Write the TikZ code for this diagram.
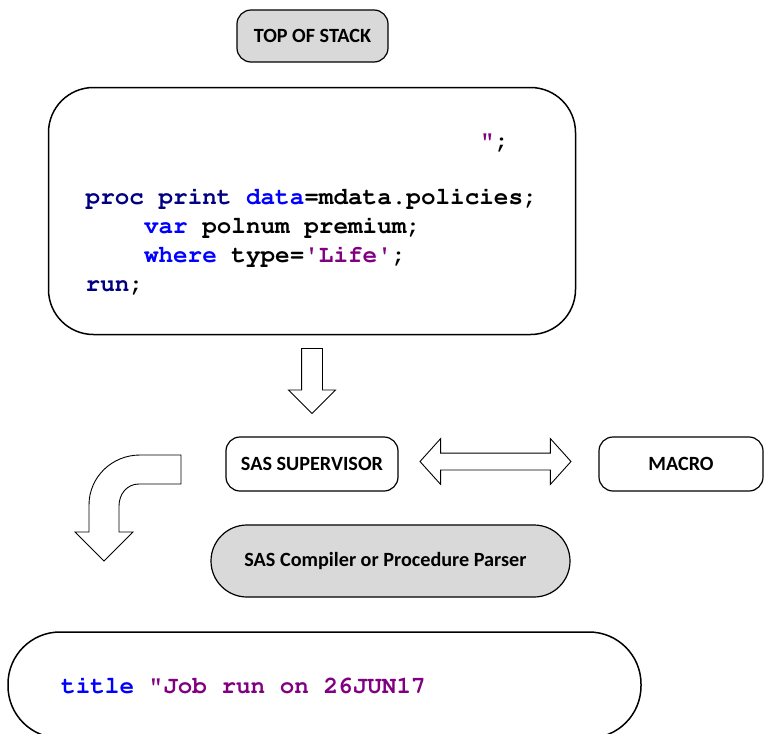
\documentclass[tikz,border=0pt]{standalone}
\usepackage[T1,TU]{fontenc}
\usepackage{fontspec}
\newfontfamily\lblfont{Carlito}
\usepackage{tikz}
\usetikzlibrary{shapes.arrows}
\definecolor{sasnavy}{RGB}{0,0,128}
\definecolor{sasblue}{RGB}{0,0,255}
\definecolor{sasstr}{RGB}{128,0,128}
\definecolor{boxgray}{RGB}{217,217,217}
\newcommand{\sascode}{\fontencoding{T1}\fontfamily{pcr}\fontseries{b}\fontsize{24.3}{29}\selectfont}
\tikzset{>=latex}
\tikzset{
  lbl/.style={font=\lblfont\bfseries\fontsize{20.2}{24}\selectfont},
  box/.style={draw, line width=1.2pt, rounded corners=14pt, lbl},
  code/.style={anchor=base west, inner sep=0pt, font=\sascode},
  bigbox/.style={draw, line width=1.5pt, rounded corners=45pt},
  blockarrow/.style={draw, line width=0.9pt}
}

\begin{document}
\begin{tikzpicture}[x=1pt, y=-1pt]
      \useasboundingbox (0,0) rectangle (764,734);
      \clip (0,0) rectangle (764,734);
      \node (top) at (312.5,36) [box, fill=boxgray, minimum width=151pt, minimum height=52pt] {TOP OF STACK};
      \node (stack) at (312,211) [bigbox, minimum width=527pt, minimum height=247pt] {};
      \node (l0) at (480,148) [code] {\textcolor{sasstr}{"};};
      \node (l1) at (85.5,204) [code] {\textcolor{sasnavy}{proc print} \textcolor{sasblue}{data}=mdata.policies;};
      \node (l2) at (143.8,233) [code] {\textcolor{sasblue}{var} polnum premium;};
      \node (l3) at (143.8,262) [code] {\textcolor{sasblue}{where} type=\textcolor{sasstr}{\textquotesingle Life\textquotesingle};};
      \node (l4) at (85.5,291) [code] {\textcolor{sasnavy}{run};};
      \node (down) at (312,348) [blockarrow, single arrow, shape border rotate=270, anchor=tail, inner sep=10pt, minimum height=65pt, single arrow head extend=13pt] {};
      \node (sup) at (312,464) [box, minimum width=172pt, minimum height=54pt] {SAS SUPERVISOR};
      \node (both) at (495.5,461.5) [blockarrow, double arrow, inner sep=8pt, minimum height=151pt, double arrow head extend=14.5pt, double arrow tip angle=96] {};
      \node (macro) at (681,464) [box, minimum width=164pt, minimum height=54pt] {MACRO};
      \draw[line width=0.9pt] (181,455) -- (140,455) .. controls (112,455) and (89,477) .. (89,505) -- (89,532) -- (75,532) -- (104,561) -- (133,532) -- (119,532) -- (119,506) .. controls (119,494) and (127,484) .. (139,484) -- (181,484) -- cycle;
      \node (comp) at (390.5,561) [box, fill=boxgray, rounded corners=36pt, minimum width=359pt, minimum height=72pt] {SAS Compiler or Procedure Parser\kern10pt};
      \node (log) at (324.5,685) [bigbox, rounded corners=52pt, minimum width=633pt, minimum height=106pt] {};
      \node (l5) at (61,693) [code] {\textcolor{sasblue}{title} \textcolor{sasstr}{"Job run on 26JUN17}};
\end{tikzpicture}
\end{document}
